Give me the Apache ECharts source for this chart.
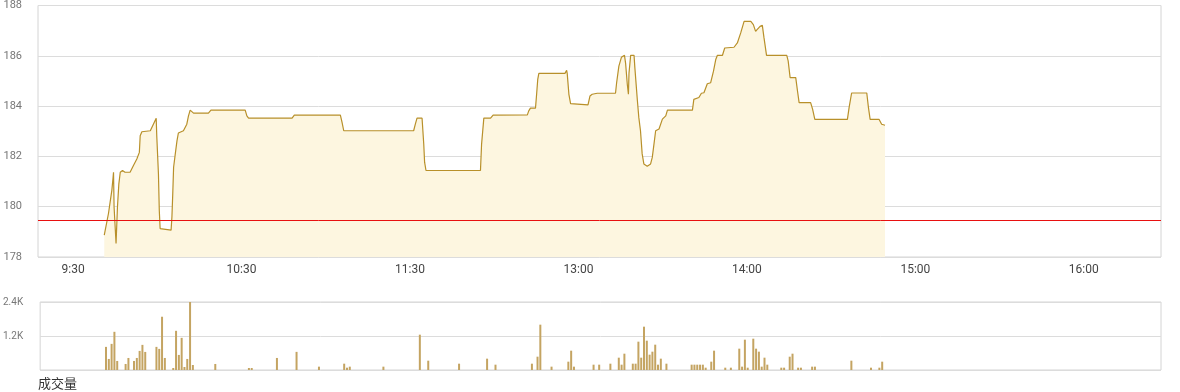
<!DOCTYPE html>
<html><head><meta charset="utf-8">
<script src="https://cdn.jsdelivr.net/npm/echarts@6/dist/echarts.min.js"></script>
<style>html,body{margin:0;padding:0;background:#fff}#c{width:1180px;height:392px}</style>
</head><body><div id="c"></div>
<script>
// minutes from 9:30 (lunch break compressed)
const tickMinutes = [0, 60, 120, 180, 240, 300, 360];
const tickLabels = ['9:30', '10:30', '11:30', '13:00', '14:00', '15:00', '16:00'];
const prevClose = 179.45;

const priceMinutes = [11.1, 11.8, 12.6, 13.2, 13.8, 14.2, 14.4, 14.6, 15.3, 15.8,
  16.3, 16.8, 17.6, 18.5, 20.3, 21.5, 22.7, 23.6, 23.9, 24.5,
  27.5, 28.6, 29.6, 29.8, 30.4, 30.7, 31.0, 31.6, 34.9, 35.2,
  35.5, 35.8, 36.4, 37.0, 37.5, 39.3, 40.5, 41.1, 41.7, 42.9,
  48.2, 49.1, 61.3, 61.9, 62.5, 78.0, 78.8, 95.2, 95.8, 96.4,
  121.3, 121.9, 122.5, 124.3, 124.9, 125.2, 125.7, 145.1, 145.5, 146.3,
  148.7, 149.6, 161.8, 162.3, 162.9, 164.7, 165.1, 165.5, 165.9, 175.2,
  175.8, 176.0, 176.6, 177.2, 177.8, 183.4, 184.1, 184.9, 186.7, 193.2,
  193.6, 194.4, 195.3, 196.4, 196.8, 197.4, 197.8, 198.0, 198.6, 199.8,
  200.1, 201.0, 201.5, 202.1, 202.7, 203.3, 204.5, 205.7, 206.3, 206.9,
  207.5, 208.7, 209.9, 211.1, 211.7, 220.6, 221.1, 222.9, 223.8, 224.7,
  225.9, 227.1, 228.1, 228.9, 229.5, 231.3, 232.1, 235.4, 236.6, 237.8,
  239.0, 241.4, 242.3, 243.1, 243.7, 244.7, 245.5, 246.1, 247.0, 254.2,
  254.7, 255.4, 257.4, 258.0, 258.6, 262.7, 263.4, 264.2, 275.8, 276.4,
  277.3, 282.7, 283.3, 283.9, 287.1, 288.0, 289.2];

const prices = [178.87, 178.94, 179.73, 180.19, 180.65, 181.11, 181.37, 179.99, 178.54, 179.99,
  180.91, 181.37, 181.44, 181.37, 181.37, 181.64, 181.90, 182.16, 182.82, 182.98,
  183.02, 183.28, 183.52, 182.82, 181.31, 179.86, 179.13, 179.07, 179.07, 179.59,
  180.52, 181.57, 182.10, 182.62, 182.93, 183.02, 183.28, 183.61, 183.84, 183.72,
  183.72, 183.84, 183.84, 183.61, 183.52, 183.52, 183.64, 183.64, 183.35, 183.02,
  183.02, 183.28, 183.52, 183.52, 182.49, 181.77, 181.44, 181.44, 182.49, 183.52,
  183.52, 183.64, 183.65, 183.81, 183.92, 183.92, 184.47, 185.06, 185.30, 185.30,
  185.42, 185.30, 184.47, 184.10, 184.05, 184.05, 184.40, 184.47, 184.51, 184.51,
  184.93, 185.59, 185.94, 186.02, 185.70, 184.87, 184.47, 185.30, 186.02, 186.02,
  185.52, 184.21, 183.55, 183.02, 182.10, 181.70, 181.61, 181.70, 181.96, 182.49,
  183.02, 183.09, 183.48, 183.61, 183.84, 183.84, 184.27, 184.34, 184.51, 184.53,
  184.89, 184.93, 185.39, 185.85, 186.02, 186.02, 186.31, 186.34, 186.51, 186.91,
  187.37, 187.37, 187.24, 186.97, 187.05, 187.17, 187.21, 186.71, 186.02, 186.02,
  185.80, 185.13, 185.13, 184.62, 184.14, 184.14, 183.88, 183.47, 183.47, 183.94,
  184.52, 184.52, 183.94, 183.47, 183.47, 183.28, 183.24];

const volumeMinutes = [11, 12, 13, 14, 15, 18, 19, 21, 22, 23, 24, 25, 29, 30, 31, 32,
  35, 36, 37, 38, 39, 40, 41, 42, 50, 62, 63, 72, 79, 87, 96, 97, 98, 110,
  123, 126, 137, 147, 150, 163, 165, 166, 170, 176, 177, 178, 185, 187, 191,
  194, 195, 196, 199, 200, 201, 202, 203, 204, 205, 206, 207, 208, 209, 211,
  220, 221, 222, 223, 224, 225, 227, 228, 232, 234, 237, 238, 239, 240, 242,
  243, 244, 245, 246, 247, 252, 253, 255, 256, 258, 259, 263, 264, 277, 284, 287, 288];
const volumes = [816, 390, 922, 1348, 319, 213, 425, 319, 425, 674, 887, 638, 816, 745, 1880, 425,
  71, 1383, 532, 1135, 106, 390, 2400, 177, 213, 71, 71, 425, 640, 118, 223, 82, 118, 118,
  1247, 329, 223, 400, 188, 223, 470, 1600, 118, 294, 682, 118, 188, 188, 223,
  435, 188, 576, 223, 223, 1000, 435, 1529, 1035, 541, 647, 894, 188, 400, 223,
  188, 188, 188, 188, 188, 82, 294, 682, 82, 82, 753, 118, 1070, 82, 1105,
  753, 647, 118, 435, 188, 82, 82, 470, 576, 82, 82, 118, 118, 329, 82, 82, 294];

const priceData = priceMinutes.map((m, i) => [m, prices[i]]);
const volData = volumeMinutes.map((m, i) => [m, volumes[i]]);

const chart = echarts.init(document.getElementById('c'), null, {renderer: 'canvas'});
const xMin = -12.5, xMax = 387.5;
chart.setOption({
  animation: false,
  grid: [
    {left: 38, right: 19, top: 4, height: 253, show: true, borderColor: '#d4d4d4', borderWidth: 1, containLabel: false},
    {left: 38, right: 19, top: 302, height: 68, show: true, borderColor: '#d4d4d4', borderWidth: 1, containLabel: false}
  ],
  xAxis: [
    {
      type: 'value', gridIndex: 0, min: xMin, max: xMax,
      axisLine: {show: false}, axisTick: {show: false}, splitLine: {show: false},
      axisLabel: {
        customValues: tickMinutes,
        formatter: v => tickLabels[tickMinutes.indexOf(v)] || '',
        color: '#444', fontSize: 12, margin: 7, fontFamily: 'Roboto, Arial, sans-serif'
      }
    },
    {
      type: 'value', gridIndex: 1, min: xMin, max: xMax,
      axisLine: {show: false}, axisTick: {show: false}, splitLine: {show: false},
      axisLabel: {show: false}
    }
  ],
  yAxis: [
    {
      type: 'value', gridIndex: 0, min: 178, max: 188, interval: 2,
      axisLine: {show: false}, axisTick: {show: false},
      splitLine: {lineStyle: {color: '#dcdcdc', width: 1}},
      axisLabel: {color: '#777', fontSize: 11, margin: 16, fontFamily: 'Roboto, Arial, sans-serif'}
    },
    {
      type: 'value', gridIndex: 1, min: 0, max: 2400, interval: 1200,
      axisLine: {show: false}, axisTick: {show: false},
      splitLine: {lineStyle: {color: '#dcdcdc', width: 1}},
      axisLabel: {
        color: '#777', fontSize: 10, margin: 17, fontFamily: 'Roboto, Arial, sans-serif',
        formatter: v => v === 0 ? '' : (v / 1000).toFixed(1) + 'K'
      }
    }
  ],
  series: [
    {
      type: 'line', xAxisIndex: 0, yAxisIndex: 0, data: priceData,
      showSymbol: false, symbol: 'none',
      lineStyle: {color: '#b8902a', width: 1.2},
      areaStyle: {color: '#fdf6e0', opacity: 1, origin: 'start'},
      markLine: {
        silent: true, symbol: 'none', label: {show: false},
        lineStyle: {color: '#e81010', width: 1, type: 'solid'},
        data: [{yAxis: prevClose}]
      }
    },
    {
      type: 'bar', xAxisIndex: 1, yAxisIndex: 1, data: volData,
      barWidth: 2, itemStyle: {color: '#c4a462'}
    }
  ],
  graphic: [
    {type: 'text', left: 38, top: 377, style: {text: '成交量', fill: '#333', font: '13px "Noto Sans CJK SC", sans-serif'}}
  ]
});
</script>
</body></html>
